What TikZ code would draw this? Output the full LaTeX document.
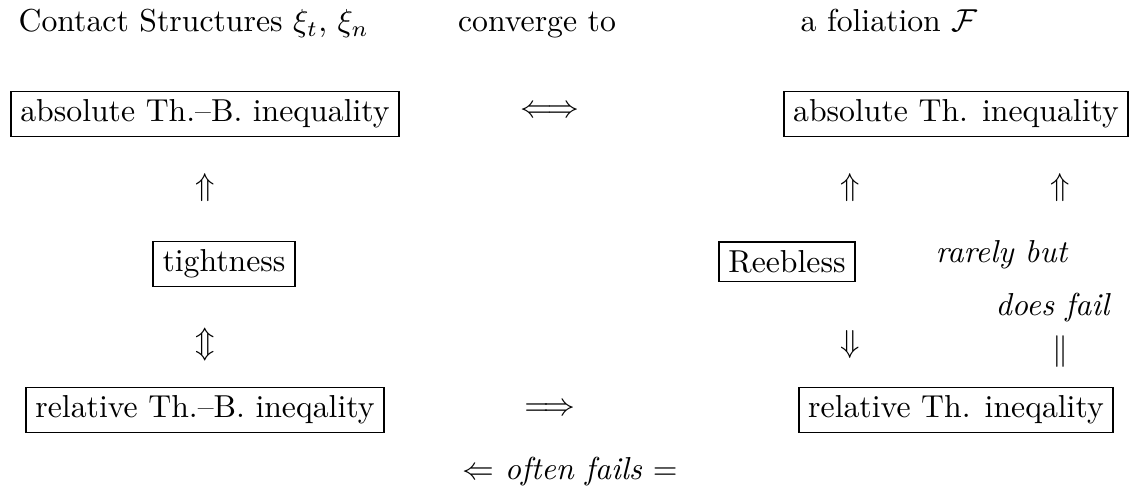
\documentclass[tikz,border=0pt]{standalone}
\usepackage{amsmath}
\begin{document}
\begin{tikzpicture}[x=0.315pt,y=-0.315pt,
  box/.style={draw,line width=0.55pt,inner xsep=3pt,inner ysep=2.6pt},
  sym/.style={inner sep=0pt},
  lbl/.style={inner sep=0pt}]
\useasboundingbox (0,0) rectangle (1139,500);
% title row
\node[lbl,anchor=base west] (t1) at (18,32) {Contact Structures $\xi_t$, $\xi_n$};
\node[lbl,anchor=base] (t2) at (537,32) {converge to};
\node[lbl,anchor=base west] (t3) at (800,32) {a foliation $\mathcal{F}$};
% top row
\node[box] (absTB) at (205,114) {absolute Th.--B. inequality};
\node[sym] (iff) at (550,112) {$\Longleftrightarrow$};
\node[box] (absT) at (956,114) {absolute Th. inequality};
% middle
\node[sym] (up1) at (205,188) {$\Uparrow$};
\node[box] (tight) at (224,264) {tightness};
\node[sym] (ud) at (205,345) {$\Updownarrow$};
\node[sym] (up2) at (850,188) {$\Uparrow$};
\node[box] (reeb) at (787,262) {Reebless};
\node[sym] (down) at (850,345) {$\Downarrow$};
\node[sym] (up3) at (1060,188) {$\Uparrow$};
\node[lbl,anchor=base west] (rare) at (935,263) {\itshape rarely but};
\node[lbl,anchor=base west] (fail) at (995,316) {\itshape does fail};
\node[sym] (par) at (1060,352) {$\|$};
% bottom row
\node[box] (relTB) at (205,410) {relative Th.--B. ineqality};
\node[sym] (impl) at (550,410) {$\Longrightarrow$};
\node[box] (relT) at (956,410) {relative Th. ineqality};
\node[lbl,anchor=base] (often) at (570,480) {$\Leftarrow$ \textit{often fails} $=$};
\end{tikzpicture}
\end{document}
